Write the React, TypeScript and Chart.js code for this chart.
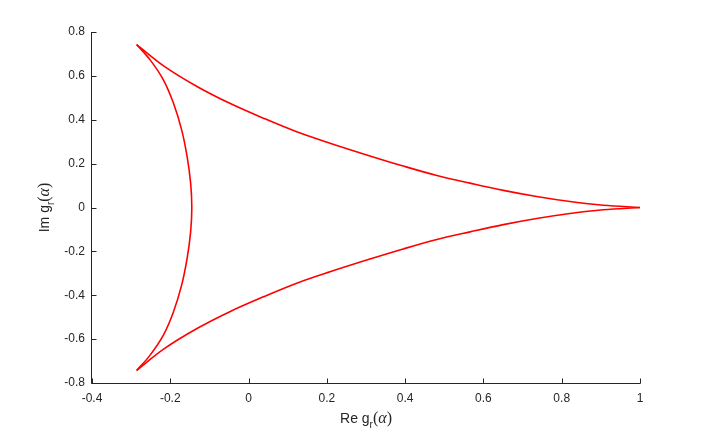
import React, { useEffect, useRef } from "react";
import { Chart, registerables } from "chart.js";

Chart.register(...registerables);

// Upper branch: from right cusp to top-left cusp
const upperX = [1.0, 0.906, 0.821, 0.736, 0.651, 0.566, 0.481, 0.395, 0.31, 0.208, 0.123, 0.038, -0.048, -0.133, -0.218, -0.286];
const upperY = [0.0, 0.01, 0.027, 0.05, 0.078, 0.111, 0.146, 0.189, 0.235, 0.293, 0.345, 0.407, 0.475, 0.553, 0.647, 0.743];

// Left branch: from top-left cusp to bottom-left cusp
const leftX = [-0.286, -0.252, -0.218, -0.192, -0.171, -0.157, -0.148, -0.145, -0.148, -0.157, -0.171, -0.192, -0.218, -0.252, -0.286];
const leftY = [0.743, 0.674, 0.583, 0.476, 0.354, 0.232, 0.111, 0.0, -0.111, -0.232, -0.354, -0.476, -0.583, -0.674, -0.743];

// Lower branch: from bottom-left cusp back to right cusp
const lowerX = [-0.286, -0.218, -0.133, -0.048, 0.038, 0.123, 0.208, 0.31, 0.395, 0.481, 0.566, 0.651, 0.736, 0.821, 0.906, 1.0];
const lowerY = [-0.743, -0.647, -0.553, -0.475, -0.407, -0.345, -0.293, -0.235, -0.189, -0.146, -0.111, -0.078, -0.05, -0.027, -0.01, 0.0];

const xTicks = [-0.4, -0.2, 0, 0.2, 0.4, 0.6, 0.8, 1];
const yTicks = [-0.8, -0.6, -0.4, -0.2, 0, 0.2, 0.4, 0.6, 0.8];

const xTitleParts = ["Re g", "r", "(", "α", ")"];
const yTitleParts = ["Im g", "r", "(", "α", ")"];

const AXIS_COLOR = "#262626";
const LINE_COLOR = "#ff0000";

const toPts = (xs: number[], ys: number[]) => xs.map((x, i) => ({ x, y: ys[i] }));

type Part = { text: string; font: string; dy: number };

const SANS = "'Liberation Sans', Arial, sans-serif";
const SERIF = "'Liberation Serif', 'DejaVu Serif', serif";

function titleParts(p: string[]): Part[] {
  return [
    { text: p[0], font: `14px ${SANS}`, dy: 0 },
    { text: p[1], font: `10px ${SANS}`, dy: 6 },
    { text: p[2], font: `16px ${SERIF}`, dy: 0 },
    { text: p[3], font: `italic 16px ${SERIF}`, dy: 0 },
    { text: p[4], font: `16px ${SERIF}`, dy: 0 },
  ];
}

function drawRich(ctx: CanvasRenderingContext2D, parts: Part[], cx: number, cy: number) {
  let total = 0;
  const widths = parts.map((p) => {
    ctx.font = p.font;
    const w = ctx.measureText(p.text).width;
    total += w;
    return w;
  });
  let x = cx - total / 2;
  ctx.textAlign = "left";
  ctx.textBaseline = "middle";
  parts.forEach((p, i) => {
    ctx.font = p.font;
    ctx.fillText(p.text, x, cy + p.dy);
    x += widths[i];
  });
}

const fmt = (v: number) => (v === 0 ? "0" : String(v));

const axesPlugin = {
  id: "matlabAxes",
  afterDraw(chart: any) {
    const ctx: CanvasRenderingContext2D = chart.ctx;
    const xs = chart.scales.x;
    const ys = chart.scales.y;
    const { left, right, top, bottom } = chart.chartArea;
    ctx.save();
    ctx.strokeStyle = AXIS_COLOR;
    ctx.fillStyle = AXIS_COLOR;
    ctx.lineWidth = 1;
    const L = Math.round(left) - 0.5;
    const B = Math.round(bottom) + 0.5;
    ctx.beginPath();
    ctx.moveTo(L, Math.round(top));
    ctx.lineTo(L, B);
    ctx.lineTo(Math.round(right) + 0.5, B);
    ctx.stroke();
    // ticks (pointing inward)
    ctx.beginPath();
    xTicks.forEach((v) => {
      const px = Math.round(xs.getPixelForValue(v)) + 0.5;
      ctx.moveTo(px, B);
      ctx.lineTo(px, B - 5);
    });
    yTicks.forEach((v) => {
      const py = Math.round(ys.getPixelForValue(v)) + 0.5;
      ctx.moveTo(L, py);
      ctx.lineTo(L + 5, py);
    });
    ctx.stroke();
    // tick labels
    ctx.font = `12px ${SANS}`;
    ctx.textAlign = "center";
    ctx.textBaseline = "middle";
    xTicks.forEach((v) => {
      ctx.fillText(fmt(v), xs.getPixelForValue(v), bottom + 16);
    });
    ctx.textAlign = "right";
    yTicks.forEach((v) => {
      ctx.fillText(fmt(v), left - 7, ys.getPixelForValue(v));
    });
    // axis titles
    drawRich(ctx, titleParts(xTitleParts), (left + right) / 2, bottom + 36);
    ctx.save();
    ctx.translate(left - 47, (top + bottom) / 2);
    ctx.rotate(-Math.PI / 2);
    drawRich(ctx, titleParts(yTitleParts), 0, 0);
    ctx.restore();
    ctx.restore();
  },
};

export default function App() {
  const ref = useRef<HTMLCanvasElement | null>(null);
  useEffect(() => {
    if (!ref.current) return;
    const ds = (xs: number[], ys: number[]) => ({
      data: toPts(xs, ys),
      showLine: true,
      borderColor: LINE_COLOR,
      backgroundColor: LINE_COLOR,
      borderWidth: 1.6,
      pointRadius: 0,
      tension: 0.35,
      fill: false,
    });
    const chart = new Chart(ref.current, {
      type: "scatter",
      data: {
        datasets: [ds(upperX, upperY), ds(leftX, leftY), ds(lowerX, lowerY)],
      },
      options: {
        animation: false,
        responsive: false,
        maintainAspectRatio: false,
        layout: { padding: { left: 0, top: 32, right: 69, bottom: 0 } },
        plugins: { legend: { display: false }, tooltip: { enabled: false } },
        scales: {
          x: {
            type: "linear",
            min: -0.4,
            max: 1,
            ticks: { display: false },
            grid: { display: false },
            border: { display: false },
            afterFit: (s: any) => {
              s.height = 51;
            },
          },
          y: {
            type: "linear",
            min: -0.8,
            max: 0.8,
            ticks: { display: false },
            grid: { display: false },
            border: { display: false },
            afterFit: (s: any) => {
              s.width = 92;
            },
          },
        },
      },
      plugins: [axesPlugin],
    });
    return () => chart.destroy();
  }, []);
  return (
    <div style={{ position: "absolute", left: 0, top: 0, width: 709, height: 434, background: "#fff" }}>
      <canvas ref={ref} width={709} height={434} style={{ width: 709, height: 434, display: "block" }} />
    </div>
  );
}
